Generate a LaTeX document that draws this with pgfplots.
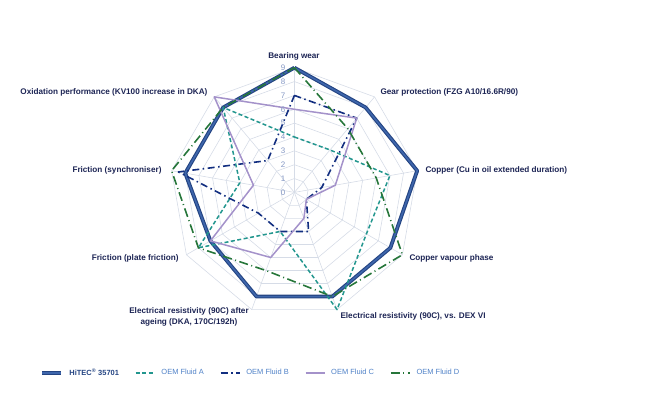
\documentclass[border=0pt]{standalone}
\usepackage{pgfplots}
\pgfplotsset{compat=1.18}
\usepackage{fontspec}
\setmainfont{Liberation Sans}
\definecolor{gridc}{RGB}{214,220,231}
\definecolor{labc}{RGB}{28,36,84}
\definecolor{tickc}{RGB}{132,151,196}
\definecolor{legc}{RGB}{79,129,199}
\definecolor{hitecdark}{RGB}{36,68,130}
\definecolor{hitecmid}{RGB}{62,102,172}
\definecolor{teal}{RGB}{34,150,142}
\definecolor{fluidb}{RGB}{18,46,128}
\definecolor{fluidc}{RGB}{164,146,202}
\definecolor{fluidd}{RGB}{38,118,58}
\begin{document}
\begin{tikzpicture}
\useasboundingbox (0,0) rectangle (645bp,397bp);
\begin{axis}[
  hide axis, clip=false,
  x=13.855bp, y=13.855bp,
  xmin=-9.5, xmax=9.5, ymin=-9.5, ymax=9.5,
  at={(294.4bp,204.6bp)}, anchor=origin,
  legend columns=5,
  legend style={draw=none, fill=none, at={(0.335,-0.186)}, anchor=center,
    font=\fontsize{7.5}{9}\selectfont, text=legc,
    /tikz/every odd column/.append style={column sep=4bp},
    /tikz/every even column/.append style={column sep=14bp}},
  legend cell align=left,
  grid ring/.style={gridc, line width=0.6bp, data cs=polar, forget plot},
  legend image code/.code={\draw[#1] (0bp,0bp) -- (19bp,0bp);},
]
% rings
\pgfplotsinvokeforeach{1,...,9}{
  \addplot[grid ring] coordinates {(90,#1) (50,#1) (10,#1) (-30,#1) (-70,#1) (-110,#1) (-150,#1) (170,#1) (130,#1) (90,#1)};
}
% spokes
\pgfplotsinvokeforeach{90,50,10,-30,-70,-110,-150,170,130}{
  \addplot[grid ring] coordinates {(#1,0) (#1,9)};
}
% HiTEC 35701
\addplot[data cs=polar, line join=round, line width=3.8bp, hitecdark,
  postaction={draw=hitecmid, line width=1.6bp}]
  coordinates {(90,9) (50,8) (10,9) (-30,8) (-70,8) (-110,8) (-150,7) (170,8) (130,8) (90,9)};
\addlegendentry{\textbf{\color{hitecdark}HiTEC\textsuperscript{\textregistered} 35701}}
% OEM Fluid A
\addplot[data cs=polar, line join=round, line width=1.5bp, teal, dash pattern=on 4bp off 2.5bp]
  coordinates {(90,4) (50,4) (10,7) (-30,6) (-70,9) (-110,3) (-150,8) (170,4) (130,8) (90,4)};
\addlegendentry{OEM Fluid A}
% OEM Fluid B
\addplot[data cs=polar, line join=round, line width=1.6bp, fluidb, dash pattern=on 7bp off 3.5bp on 1.5bp off 3.5bp]
  coordinates {(90,7) (50,7) (10,2) (-30,1) (-70,3) (-110,3) (-150,3) (170,8.5) (130,3) (90,7)};
\addlegendentry{OEM Fluid B}
% OEM Fluid C
\addplot[data cs=polar, line join=round, line width=1.5bp, fluidc]
  coordinates {(90,6) (50,7) (10,3) (-30,1) (-70,2) (-110,5) (-150,7) (170,3) (130,9) (90,6)};
\addlegendentry{OEM Fluid C}
% OEM Fluid D
\addplot[data cs=polar, line join=round, line width=1.6bp, fluidd, dash pattern=on 9bp off 3.5bp on 1bp off 3.5bp]
  coordinates {(90,9) (50,6) (10,6) (-30,9) (-70,8) (-110,6) (-150,8) (170,9) (130,8) (90,9)};
\addlegendentry{OEM Fluid D}
% radial tick labels
\pgfplotsinvokeforeach{0,...,9}{
  \node[text=tickc, font=\fontsize{8}{9}\selectfont, anchor=center] at (axis cs:-0.82,#1) {#1};
}
\end{axis}
\begin{scope}[every node/.style={text=labc, font=\fontsize{8.2}{10}\selectfont\bfseries}]
\node[anchor=center] at (294bp,341bp) {Bearing wear};
\node[anchor=west] at (377bp,305bp) {Gear protection (FZG A10/16.6R/90)};
\node[anchor=west] at (422bp,227bp) {Copper (Cu in oil extended duration)};
\node[anchor=west] at (406bp,138.5bp) {Copper vapour phase};
\node[anchor=west] at (337bp,81bp) {Electrical resistivity (90C), vs. DEX VI};
\node[anchor=center, align=center, font=\fontsize{8.2}{11.5}\selectfont\bfseries] at (189bp,80bp) {Electrical resistivity (90C) after\\ageing (DKA, 170C/192h)};
\node[anchor=east] at (182bp,138.5bp) {Friction (plate friction)};
\node[anchor=east] at (165bp,227bp) {Friction (synchroniser)};
\node[anchor=east] at (211bp,304.5bp) {Oxidation performance (KV100 increase in DKA)};
\end{scope}
\end{tikzpicture}
\end{document}
